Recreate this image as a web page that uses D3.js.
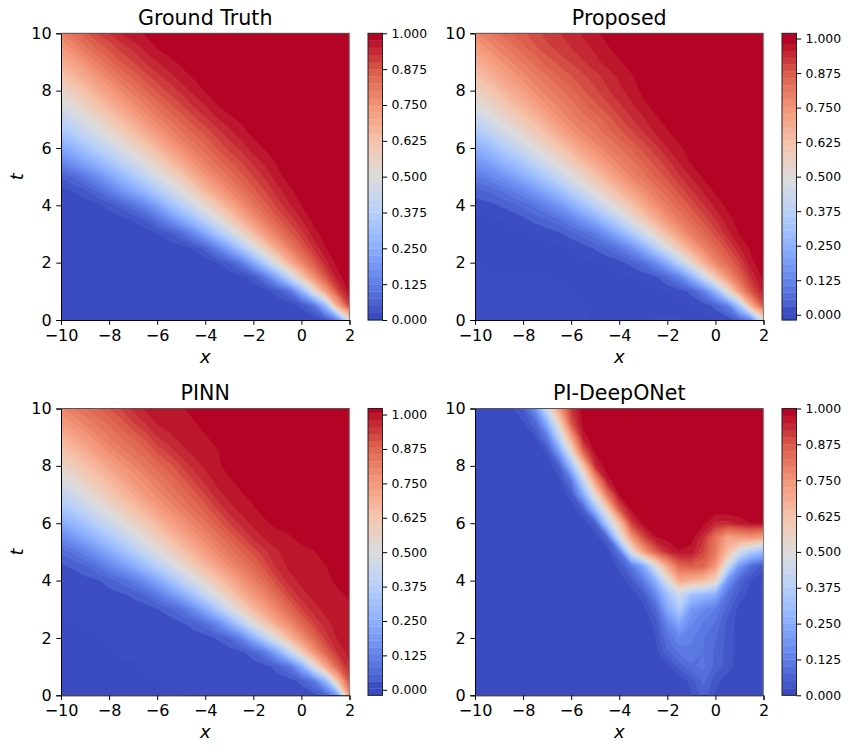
<!DOCTYPE html>
<html>
<head>
<meta charset="utf-8">
<script src="https://cdn.jsdelivr.net/npm/d3@7"></script>
<style>
  html, body { margin: 0; background: #fff; }
  text { font-family: "DejaVu Sans", sans-serif; fill: #000; }
  .tick line, .domain { stroke: #000; stroke-width: 1; }
</style>
</head>
<body>
<svg id="fig" width="852" height="752"></svg>
<script>
const xTicks = [-10, -8, -6, -4, -2, 0, 2];
const tTicks = [0, 2, 4, 6, 8, 10];
const barTicks = [0, 0.125, 0.25, 0.375, 0.5, 0.625, 0.75, 0.875, 1];

// coolwarm
const cmapStops = ['#3b4cc0', '#6282ea', '#8db0fe', '#b8d0f9', '#dddcdc', '#f5c4ac', '#f4987a', '#dc5f4b', '#b40426'];

// u in percent, top row t=10 down to t=0 in steps of 0.5, columns x=-10..2 in steps of 0.5
const groundTruth = [
  [80,84,87,91,93,96,98,98,99,100,100,100,100,100,100,100,100,100,100,100,100,100,100,100,100],
  [74,78,82,86,88,91,93,96,98,99,100,100,100,100,100,100,100,100,100,100,100,100,100,100,100],
  [68,72,76,80,84,88,90,93,95,97,98,99,100,100,100,100,100,100,100,100,100,100,100,100,100],
  [61,66,70,75,79,83,86,89,92,94,97,98,99,100,100,100,100,100,100,100,100,100,100,100,100],
  [54,59,64,69,73,78,81,85,88,91,93,96,98,99,100,100,100,100,100,100,100,100,100,100,100],
  [47,52,57,62,67,72,77,80,84,87,90,93,95,98,99,100,100,100,100,100,100,100,100,100,100],
  [40,45,49,55,60,65,70,76,79,83,86,89,92,95,97,98,100,100,100,100,100,100,100,100,100],
  [32,37,42,47,52,57,63,68,74,78,82,85,88,91,94,97,98,99,100,100,100,100,100,100,100],
  [23,27,33,38,43,49,54,60,66,72,77,81,84,88,91,93,97,98,99,100,100,100,100,100,100],
  [14,18,23,28,33,39,45,51,57,64,70,76,80,84,87,90,93,96,98,99,100,100,100,100,100],
  [4,7,11,16,22,28,34,40,48,54,60,68,75,79,83,87,90,93,97,99,100,100,100,100,100],
  [1,2,4,7,12,18,23,29,36,43,50,58,66,73,78,82,87,90,94,97,99,100,100,100,100],
  [0,0,0,1,3,5,9,14,21,30,38,46,54,62,70,77,82,87,91,95,98,99,100,100,100],
  [0,0,0,0,0,1,2,4,9,16,24,31,40,50,59,68,76,82,87,91,95,99,100,100,100],
  [0,0,0,0,0,0,0,0,1,3,6,13,23,33,43,54,64,75,81,87,91,97,99,100,100],
  [0,0,0,0,0,0,0,0,0,0,0,1,4,12,22,34,48,60,72,80,87,93,98,100,100],
  [0,0,0,0,0,0,0,0,0,0,0,0,0,1,3,9,22,38,54,70,80,87,95,99,100],
  [0,0,0,0,0,0,0,0,0,0,0,0,0,0,0,0,1,8,23,44,63,79,89,98,100],
  [0,0,0,0,0,0,0,0,0,0,0,0,0,0,0,0,0,0,1,3,23,54,78,91,100],
  [0,0,0,0,0,0,0,0,0,0,0,0,0,0,0,0,0,0,0,0,0,1,22,80,100],
  [0,0,0,0,0,0,0,0,0,0,0,0,0,0,0,0,0,0,0,0,0,0,0,0,50]
];

const proposed = [
  [78,81,84,86,88,90,92,93,95,96,98,99,100,100,100,100,100,100,100,100,100,100,100,100,100],
  [72,76,79,82,85,88,90,92,93,95,96,98,99,100,100,100,100,100,100,100,100,100,100,100,100],
  [67,71,75,78,81,84,87,89,91,93,95,97,98,99,100,100,100,100,100,100,100,100,100,100,100],
  [62,66,70,74,77,80,83,86,88,90,92,94,96,98,99,100,100,100,100,100,100,100,100,100,100],
  [56,60,64,69,73,77,80,82,85,88,90,93,95,97,99,100,100,100,100,100,100,100,100,100,100],
  [49,53,58,63,67,72,76,79,82,85,88,90,93,95,98,99,100,100,100,100,100,100,100,100,100],
  [41,46,51,56,61,65,70,76,79,82,84,87,90,93,95,98,99,100,100,100,100,100,100,100,100],
  [32,37,43,48,53,58,64,69,75,78,81,84,87,90,93,96,98,99,100,100,100,100,100,100,100],
  [23,27,33,39,44,50,56,61,67,73,77,80,83,86,89,92,96,98,99,100,100,100,100,100,100],
  [16,20,24,28,34,40,46,52,58,65,70,76,79,82,86,89,92,96,99,100,100,100,100,100,100],
  [10,12,15,19,24,29,35,42,49,55,62,68,75,79,82,86,89,93,96,99,100,100,100,100,100],
  [4,5,7,10,13,18,23,29,37,44,52,59,65,72,77,81,85,89,93,96,99,100,100,100,100],
  [1,2,3,4,6,8,12,17,23,30,39,47,55,62,70,77,81,85,89,93,97,99,100,100,100],
  [0,0,0,1,2,4,5,7,11,17,23,31,41,51,60,68,76,81,85,89,93,98,99,100,100],
  [0,0,0,0,0,0,1,2,4,6,9,15,23,33,44,55,65,75,80,85,89,95,99,100,100],
  [0,0,0,0,0,0,0,0,0,1,3,5,8,13,23,35,49,61,72,79,85,89,96,99,100],
  [1,0,0,0,0,0,0,0,0,0,0,0,1,3,6,12,23,39,55,70,80,85,90,99,100],
  [1,1,1,1,1,1,1,0,0,0,0,0,0,0,0,1,4,9,23,44,64,78,86,94,100],
  [1,1,1,1,1,1,1,1,1,0,0,0,0,0,0,0,0,0,1,6,23,55,80,91,98],
  [1,1,1,1,1,1,1,1,1,1,0,0,0,0,0,0,0,0,0,0,1,3,28,80,96],
  [1,1,1,1,1,1,1,1,1,1,0,0,0,0,0,1,1,1,0,0,0,0,0,0,50]
];

const pinn = [
  [81,84,86,88,91,94,97,99,99,100,100,102,102,102,102,102,102,102,102,102,102,102,102,102,102],
  [75,78,81,84,86,89,93,96,99,99,99,100,102,102,102,102,102,102,102,102,102,102,102,102,102],
  [68,72,76,80,83,86,88,91,96,98,99,99,100,102,102,102,102,102,102,102,102,102,102,102,102],
  [62,66,70,75,79,82,85,87,91,94,98,99,99,100,102,102,102,102,102,102,102,102,102,102,102],
  [55,59,64,68,73,77,80,84,87,89,93,97,99,100,102,102,102,102,102,102,102,102,102,102,102],
  [48,53,58,62,67,72,76,79,83,86,89,93,97,99,100,102,102,102,102,102,102,102,102,102,102],
  [41,46,51,56,61,66,71,76,79,83,86,89,93,98,99,100,102,102,102,102,102,102,102,102,102],
  [33,37,42,48,53,59,64,69,75,78,82,86,89,93,98,99,100,102,102,102,102,102,102,102,102],
  [22,27,33,39,44,50,55,61,67,73,77,81,85,89,93,97,99,100,102,102,102,102,102,102,102],
  [14,18,23,28,34,40,47,53,59,65,71,76,80,84,88,92,97,99,99,100,102,102,102,102,102],
  [5,8,12,17,23,29,36,43,50,56,63,69,75,80,84,88,91,95,98,99,99,100,102,102,102],
  [2,3,4,7,13,18,23,30,38,46,53,60,67,73,79,83,87,92,97,99,99,100,100,102,102],
  [1,1,2,2,3,5,9,15,22,30,39,48,56,63,70,77,82,87,93,98,99,99,100,101,102],
  [1,1,1,1,2,2,3,4,9,16,23,32,43,52,61,70,76,81,87,93,98,99,99,100,101],
  [1,1,1,1,1,1,1,1,2,3,6,13,23,35,48,59,67,75,81,87,93,98,99,99,100],
  [0,0,1,1,1,1,1,1,1,1,2,3,5,12,23,38,53,64,74,80,87,93,98,99,100],
  [0,0,0,0,1,1,1,1,1,1,1,1,1,2,3,9,24,40,55,69,79,87,95,99,100],
  [0,0,0,0,0,1,1,1,1,1,1,1,1,1,1,1,2,6,20,42,63,79,89,97,100],
  [0,0,0,0,0,0,0,1,1,1,1,1,1,1,1,1,1,1,2,3,19,52,78,90,99],
  [0,0,0,0,0,0,0,0,0,1,1,1,1,1,1,1,1,1,1,1,1,2,20,72,97],
  [0,0,0,0,0,0,0,0,0,0,0,1,1,1,1,1,1,1,1,1,1,1,1,3,85]
];

const deepONet = [
  [0,0,0,2,5,17,47,75,93,100,100,100,100,100,100,100,100,100,100,100,100,100,100,100,100],
  [0,0,0,0,2,6,25,57,90,99,100,100,100,100,100,100,100,100,100,100,100,100,100,100,100],
  [0,0,0,0,0,2,10,40,72,98,100,100,100,100,100,100,100,100,100,100,100,100,100,100,100],
  [0,0,0,0,0,0,2,20,53,88,99,100,100,100,100,100,100,100,100,100,100,100,100,100,100],
  [0,0,0,0,0,0,0,4,30,62,96,100,100,100,100,100,100,100,100,100,100,100,100,100,100],
  [0,0,0,0,0,0,0,1,9,42,75,98,100,100,100,100,100,100,100,100,100,100,100,100,100],
  [0,0,0,0,0,0,0,0,3,24,54,84,99,100,100,100,100,100,100,100,100,100,100,100,100],
  [0,0,0,0,0,0,0,0,0,4,30,58,90,99,100,100,100,100,100,100,100,100,100,100,100],
  [0,0,0,0,0,0,0,0,0,0,3,38,62,93,99,100,100,100,100,99,94,95,97,99,99],
  [0,0,0,0,0,0,0,0,0,0,0,4,47,75,90,98,99,100,99,93,82,70,74,76,73],
  [0,0,0,0,0,0,0,0,0,0,0,0,7,50,75,88,95,98,97,90,82,65,46,34,28],
  [0,0,0,0,0,0,0,0,0,0,0,0,3,9,20,47,70,85,88,86,76,45,17,7,2],
  [0,0,0,0,0,0,0,0,0,0,0,0,0,4,12,25,50,72,68,66,60,17,6,2,0],
  [0,0,0,0,0,0,0,0,0,0,0,0,0,0,4,14,30,45,30,27,24,9,4,1,0],
  [0,0,0,0,0,0,0,0,0,0,0,0,0,0,1,6,24,38,18,15,12,6,1,0,0],
  [0,0,0,0,0,0,0,0,0,0,0,0,0,0,0,3,14,24,15,12,10,4,1,0,0],
  [0,0,0,0,0,0,0,0,0,0,0,0,0,0,0,2,10,15,13,10,8,4,1,0,0],
  [0,0,0,0,0,0,0,0,0,0,0,0,0,0,0,1,7,11,12,10,7,4,1,0,0],
  [0,0,0,0,0,0,0,0,0,0,0,0,0,0,0,0,1,6,10,11,7,4,1,0,0],
  [0,0,0,0,0,0,0,0,0,0,0,0,0,0,0,0,0,0,3,9,3,1,0,0,0],
  [0,0,0,0,0,0,0,0,0,0,0,0,0,0,0,0,0,0,2,7,2,0,0,0,0]
];

const panels = [
  { title: 'Ground Truth', rows: groundTruth, left: 61, top: 33.3, bottom: 320, lo: 0, hi: 1, lastLevel: 0.99, blur: 0.05, ylabel: true },
  { title: 'Proposed', rows: proposed, left: 475, top: 33.3, bottom: 320, lo: -0.019, hi: 1.019, lastLevel: 0.99, blur: 0.05 },
  { title: 'PINN', rows: pinn, left: 61, top: 408.5, bottom: 695.3, lo: -0.02, hi: 1.022, lastLevel: 1.01, blur: 0.05, ylabel: true },
  { title: 'PI-DeepONet', rows: deepONet, left: 475, top: 408.5, bottom: 695.3, lo: 0, hi: 1, lastLevel: 0.99, blur: 0.02 }
];

const plotWidth = 288.5;
const barGap = 18.5;
const barWidth = 14.5;
const levelStep = 0.025;

const cmap = d3.scaleLinear()
  .domain(cmapStops.map((d, i) => i / (cmapStops.length - 1)))
  .range(cmapStops);

const svg = d3.select('#fig');

panels.forEach((p, idx) => {
  const g = svg.append('g');
  const right = p.left + plotWidth;

  const x = d3.scaleLinear().domain([-10, 2]).range([p.left, right]);
  const y = d3.scaleLinear().domain([0, 10]).range([p.bottom, p.top]);

  const nx = p.rows[0].length;
  const ny = p.rows.length;
  // d3.contours puts grid values on cell centres
  const ix = d3.scaleLinear().domain([0.5, nx - 0.5]).range([-10, 2]);
  const iy = d3.scaleLinear().domain([0.5, ny - 0.5]).range([10, 0]);

  // band edges, same idea as contourf levels
  const levels = d3.range(p.lo, p.lastLevel + 0.001, levelStep);
  const bandColor = i => {
    // the two lowest bands are almost the same blue when the range dips below zero
    if (p.lo < 0 && i === 1) return cmap(0.005);
    return cmap(i / (levels.length - 1));
  };

  const clipId = 'clip' + idx;
  g.append('clipPath').attr('id', clipId).append('rect')
    .attr('x', p.left).attr('y', p.top)
    .attr('width', plotWidth).attr('height', p.bottom - p.top);

  const values = p.rows.flat().map(v => v / 100);
  d3.blur2({ data: values, width: nx, height: ny }, p.blur);
  const contours = d3.contours().size([nx, ny]).thresholds(levels.slice(1))(values);
  const path = d3.geoPath(d3.geoTransform({
    point(a, b) { this.stream.point(x(ix(a)), y(iy(b))); }
  }));

  const plot = g.append('g').attr('clip-path', `url(#${clipId})`);
  plot.append('rect')
    .attr('x', p.left).attr('y', p.top)
    .attr('width', plotWidth).attr('height', p.bottom - p.top)
    .attr('fill', bandColor(0));
  plot.selectAll('path').data(contours).enter().append('path')
    .attr('d', path)
    .attr('fill', (d, i) => bandColor(i + 1));

  // axes
  const xAxis = g.append('g').attr('transform', `translate(0,${p.bottom})`)
    .call(d3.axisBottom(x).tickValues(xTicks).tickFormat(d3.format('d')).tickSize(4.7).tickPadding(4.6));
  const yAxis = g.append('g').attr('transform', `translate(${p.left},0)`)
    .call(d3.axisLeft(y).tickValues(tTicks).tickFormat(d3.format('d')).tickSize(4.7).tickPadding(4.6));
  xAxis.selectAll('text').attr('font-size', 16);
  yAxis.selectAll('text').attr('font-size', 16);

  g.append('path').attr('d', `M${p.left},${p.top}H${right}`)
    .attr('fill', 'none').attr('stroke', '#555').attr('stroke-width', 1);
  g.append('path').attr('d', `M${right},${p.top}V${p.bottom}`)
    .attr('fill', 'none').attr('stroke', '#888').attr('stroke-width', 1.2);

  g.append('text')
    .attr('x', (p.left + right) / 2).attr('y', p.top - 8.5)
    .attr('text-anchor', 'middle').attr('font-size', 20.6)
    .text(p.title);

  g.append('text')
    .attr('x', (p.left + right) / 2).attr('y', p.bottom + 43)
    .attr('text-anchor', 'middle').attr('font-size', 18).attr('font-style', 'italic')
    .text('x');

  if (p.ylabel) {
    g.append('text')
      .attr('transform', `translate(23,${(p.top + p.bottom) / 2}) rotate(-90)`)
      .attr('text-anchor', 'middle').attr('font-size', 18).attr('font-style', 'italic')
      .text('t');
  }

  // colorbar
  const barLeft = right + barGap;
  const c = d3.scaleLinear().domain([p.lo, p.hi]).range([p.bottom, p.top]);
  const edges = levels.concat([p.hi]);
  g.append('g').selectAll('rect').data(levels).enter().append('rect')
    .attr('x', barLeft)
    .attr('y', (d, i) => c(edges[i + 1]))
    .attr('width', barWidth)
    .attr('height', (d, i) => c(edges[i]) - c(edges[i + 1]) + 0.3)
    .attr('fill', (d, i) => bandColor(i));
  g.append('rect')
    .attr('x', barLeft).attr('y', p.top)
    .attr('width', barWidth).attr('height', p.bottom - p.top)
    .attr('fill', 'none').attr('stroke', '#222').attr('stroke-width', 1);

  const barAxis = g.append('g').attr('transform', `translate(${barLeft + barWidth},0)`)
    .call(d3.axisRight(c).tickValues(barTicks).tickFormat(d3.format('.3f')).tickSize(4.7).tickPadding(4.4));
  barAxis.select('.domain').remove();
  barAxis.selectAll('text').attr('font-size', 12.4);
});
</script>
</body>
</html>
